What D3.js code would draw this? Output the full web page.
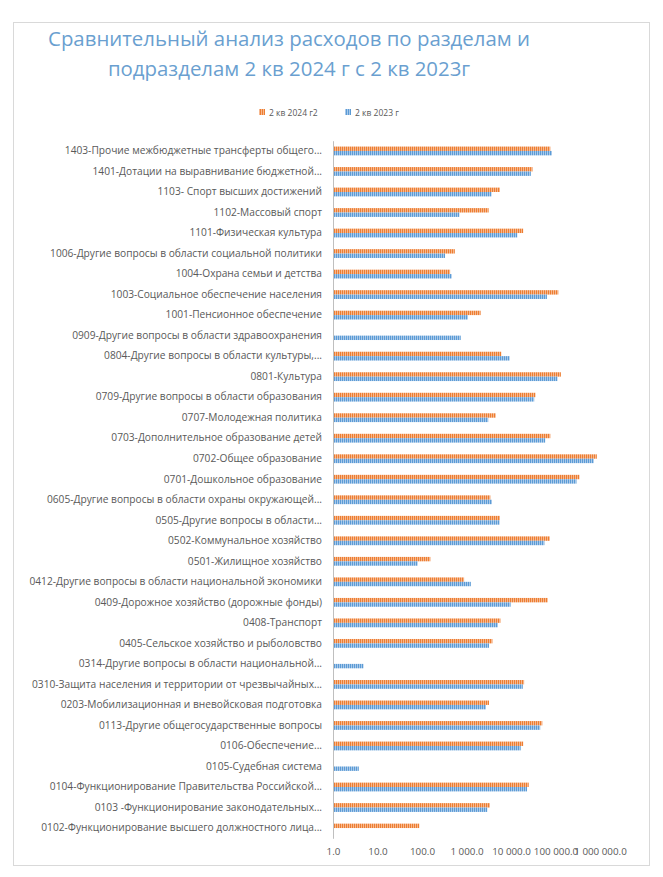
<!DOCTYPE html>
<html>
<head>
<meta charset="utf-8">
<script src="https://cdn.jsdelivr.net/npm/d3@7"></script>
<style>
  html, body { margin: 0; padding: 0; background: #fff; }
  svg { display: block; }
</style>
</head>
<body>
<svg id="chart" width="663" height="877"></svg>
<script>
const categories = [
  "1403-Прочие межбюджетные трансферты общего...",
  "1401-Дотации на выравнивание бюджетной...",
  "1103- Спорт высших достижений",
  "1102-Массовый спорт",
  "1101-Физическая культура",
  "1006-Другие вопросы в области социальной политики",
  "1004-Охрана семьи и детства",
  "1003-Социальное обеспечение населения",
  "1001-Пенсионное обеспечение",
  "0909-Другие вопросы в области здравоохранения",
  "0804-Другие вопросы в области культуры,...",
  "0801-Культура",
  "0709-Другие вопросы в области образования",
  "0707-Молодежная политика",
  "0703-Дополнительное образование детей",
  "0702-Общее образование",
  "0701-Дошкольное образование",
  "0605-Другие вопросы в области охраны окружающей...",
  "0505-Другие вопросы в области...",
  "0502-Коммунальное хозяйство",
  "0501-Жилищное хозяйство",
  "0412-Другие вопросы в области национальной экономики",
  "0409-Дорожное хозяйство (дорожные фонды)",
  "0408-Транспорт",
  "0405-Сельское хозяйство и рыболовство",
  "0314-Другие вопросы в области национальной...",
  "0310-Защита населения и территории от чрезвычайных...",
  "0203-Мобилизационная и вневойсковая подготовка",
  "0113-Другие общегосударственные вопросы",
  "0106-Обеспечение...",
  "0105-Судебная система",
  "0104-Функционирование Правительства Российской...",
  "0103 -Функционирование законодательных...",
  "0102-Функционирование высшего должностного лица..."
];
const values2024 = [
  76400, 30400, 5660, 3140, 18800, 546, 428, 115600, 2075, null,
  6050, 132000, 35550, 4550, 76400, 848000, 346000, 3430, 5660, 74800,
  154, 883, 67100, 5780, 3820, null, 19700, 3200, 50500, 18800,
  null, 25000, 3360, 87
];
const values2023 = [
  83400, 27900, 3650, 692, 13850, 329, 467, 64100, 1075, 741,
  9350, 111000, 33200, 3075, 58700, 726000, 296000, 3740, 5550, 56300,
  80, 1250, 9790, 5080, 3200, 4.85, 18400, 2740, 45300, 16500,
  3.8, 22900, 2930, null
];
const seriesNames = ["2 кв 2024 г2", "2 кв 2023 г"];
const tickValues = [1, 10, 100, 1000, 10000, 100000, 1000000];
const titleLines = ["Сравнительный анализ расходов по разделам и", "подразделам 2 кв 2024 г с 2 кв 2023г"];

const colors = ["#ed7d31", "#5b9bd5"];
const lightColors = ["#f6b88f", "#a9c9ea"];

const svg = d3.select("#chart");
const defs = svg.append("defs");
colors.forEach((c, i) => {
  const p = defs.append("pattern")
    .attr("id", "pat" + i)
    .attr("patternUnits", "userSpaceOnUse")
    .attr("width", 2).attr("height", 2);
  p.append("rect").attr("width", 2).attr("height", 2).attr("fill", lightColors[i]);
  p.append("rect").attr("width", 1).attr("height", 2).attr("fill", c);
});

// frame
svg.append("rect")
  .attr("x", 13.5).attr("y", 22.5).attr("width", 636).attr("height", 843)
  .attr("fill", "#fff").attr("stroke", "#d9d9d9").attr("stroke-width", 1);

// title
const title = svg.append("text")
  .attr("text-anchor", "middle")
  .attr("font-family", "'Open Sans', 'Noto Sans', sans-serif")
  .attr("font-size", 20.4)
  .attr("fill", "#6a9fd0");
titleLines.forEach((t, i) => {
  title.append("tspan").attr("x", 289).attr("y", 46 + i * 30).text(t);
});

// legend
const legend = svg.append("g").attr("font-family", "'Open Sans', 'Noto Sans', sans-serif")
  .attr("font-size", 8.5).attr("fill", "#595959");
const legendX = [259, 345];
seriesNames.forEach((n, i) => {
  legend.append("rect").attr("x", legendX[i]).attr("y", 109).attr("width", 6).attr("height", 6)
    .attr("fill", "url(#pat" + i + ")");
  legend.append("text").attr("x", legendX[i] + 10).attr("y", 115.5).text(n);
});

// scales
const x = d3.scaleLog().domain([1, 1000000]).range([333, 600]);
const y = d3.scaleBand().domain(categories).range([140.7, 838.3]);
const barH = 4.4;

// bars
const series = [values2024, values2023];
series.forEach((vals, si) => {
  svg.append("g").selectAll("rect")
    .data(categories.map((c, i) => ({ c, v: vals[i] })).filter(d => d.v != null))
    .join("rect")
    .attr("x", x(1))
    .attr("y", d => y(d.c) + y.bandwidth() / 2 - barH + si * barH)
    .attr("width", d => x(d.v) - x(1))
    .attr("height", barH)
    .attr("fill", "url(#pat" + si + ")");
});

// category axis
const yAxis = svg.append("g").attr("transform", "translate(333,0)")
  .call(d3.axisLeft(y).tickSize(0).tickPadding(11));
yAxis.select(".domain").attr("stroke", "#bfbfbf");
yAxis.selectAll("text")
  .attr("font-family", "'Open Sans', 'Noto Sans', sans-serif")
  .attr("font-size", 10.2)
  .attr("fill", "#595959");

// value axis
const fmt = v => d3.format(",.1f")(v).replace(/,/g, " ");
const xAxis = svg.append("g").attr("transform", "translate(0,838.3)")
  .call(d3.axisBottom(x).tickValues(tickValues).tickFormat(fmt).tickSize(0).tickPadding(10));
xAxis.select(".domain").remove();
xAxis.selectAll("text")
  .attr("font-family", "'Open Sans', 'Noto Sans', sans-serif")
  .attr("font-size", 9.8)
  .attr("fill", "#595959");
</script>
</body>
</html>
